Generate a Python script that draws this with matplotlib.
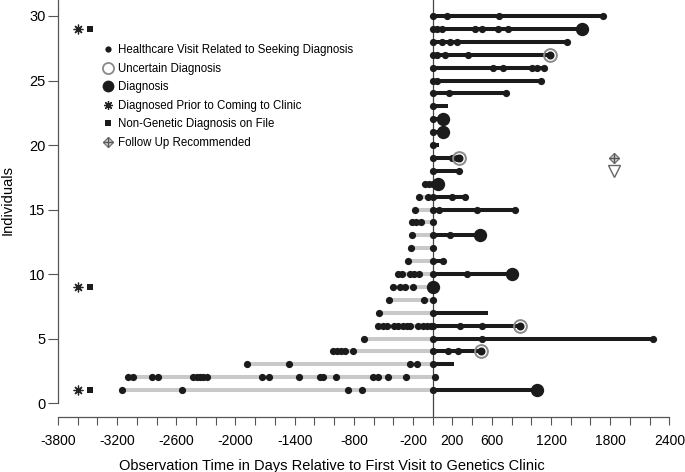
import matplotlib
matplotlib.use("Agg")
import matplotlib.pyplot as plt
from matplotlib.lines import Line2D
from matplotlib.legend_handler import HandlerTuple

plt.rcParams['font.family'] = ['Liberation Sans', 'DejaVu Sans']

# ---- data: days relative to first genetics-clinic visit ----
individuals = list(range(1, 31))
visits = {
    1: [-3154, -2546, -862, -720, 0],
    2: [-3087, -3037, -2850, -2783, -2428, -2394, -2360, -2327, -2286, -1734, -1660,
        -1353, -1143, -1110, -981, -609, -552, -450, -271, 23],
    3: [-1886, -1457, -230, -162, 0],
    4: [-1014, -974, -933, -889, -811, 0, 158, 260],
    5: [-697, 0, 497, 2237],
    6: [-552, -507, -460, -392, -349, -304, -264, -230, -146, -101, -61, -20, 0, 277, 497],
    7: [-541, 0],
    8: [-440, -88, 0],
    9: [-406, -332, -281, -197],
    10: [-349, -314, -230, -190, -136, 0, 345],
    11: [-247, 0, 108],
    12: [-220, 0],
    13: [-213, 0, 175],
    14: [-213, -169, -122, 0],
    15: [-183, 0, 67, 452, 834],
    16: [-136, -44, 0, 192, 327],
    17: [-78, -34, 0],
    18: [0, 267],
    19: [0, 192, 243],
    20: [0],
    21: [0],
    22: [0],
    23: [0],
    24: [0, 169, 743],
    25: [0, 40, 1098],
    26: [0, 608, 710, 1004, 1055, 1132],
    27: [0, 40, 125, 355],
    28: [0, 91, 175, 250, 1359],
    29: [0, 40, 91, 430, 497, 666, 767],
    30: [0, 142, 676, 1730],
}
diagnosis = {1: 1061, 9: 0, 10: 801, 13: 480, 17: 57, 21: 108, 22: 108, 29: 1517}
uncertain = {4: 490, 6: 886, 19: 270, 27: 1190}
followup_end = {3: 216, 7: 564, 8: 30, 20: 60, 23: 158}
prior_dx = [1, 9, 29]
nongenetic_dx = [1, 9, 29]
followup_recommended = {19: 1842}
followup_triangle = {18: 1842}
prior_x = -3600
nongenetic_x = -3480

xticks = list(range(-3800, 2401, 200))
xtick_labels = ['-3800', '-3200', '-2600', '-2000', '-1400', '-800', '-200',
                '200', '600', '1200', '1800', '2400']
yticks = [0, 5, 10, 15, 20, 25, 30]

BLACK = '#1b1b1b'
GREY = '#c9c9c9'
RING = '#8a8a8a'

fig = plt.figure(figsize=(6.85, 4.72), dpi=100)
ax = fig.add_axes([58 / 685, 55 / 472, 622 / 685, 417 / 472])
ax.set_xlim(-3800, 2508)
ax.set_ylim(-1.08, 31.24)

ax.axvline(0, color='#444444', lw=0.9, zorder=1)

for i in individuals:
    pts = list(visits[i])
    if i in diagnosis:
        pts.append(diagnosis[i])
    if i in uncertain:
        pts.append(uncertain[i])
    if i in followup_end:
        pts.append(followup_end[i])
    lo = min(pts)
    hi = max(pts)
    if lo < 0:
        ax.plot([lo, 0], [i, i], color=GREY, lw=2.9, solid_capstyle='butt', zorder=2)
    if hi > 0:
        ax.plot([0, hi], [i, i], color=BLACK, lw=2.9, solid_capstyle='butt', zorder=3)
    ax.plot(visits[i], [i] * len(visits[i]), 'o', color=BLACK, ms=5.2, mew=0, zorder=4)
    if i in diagnosis:
        ax.plot([diagnosis[i]], [i], 'o', color=BLACK, ms=9.6, mew=0, zorder=5)
    if i in uncertain:
        ax.plot([uncertain[i]], [i], 'o', color=BLACK, ms=5.8, mew=0, zorder=5)
        ax.plot([uncertain[i]], [i], 'o', mfc='none', mec=RING, ms=9.2, mew=1.4, zorder=6)

ax.plot([prior_x] * len(prior_dx), prior_dx, ls='none', marker=(8, 2, 0),
        color='#222222', ms=7, mew=0.9, zorder=5)
ax.plot([nongenetic_x] * len(nongenetic_dx), nongenetic_dx, 's', color=BLACK,
        ms=4.3, mew=0, zorder=5)
for i, d in followup_recommended.items():
    ax.plot([d], [i], 'D', mfc='#dddddd', mec='#777777', ms=5.5, mew=1.0, zorder=5)
    ax.plot([d], [i], '+', color='#555555', ms=7, mew=1.0, zorder=6)
for i, d in followup_triangle.items():
    ax.plot([d], [i], 'v', mfc='white', mec='#666666', ms=9, mew=1.0, zorder=5)

# legend
h_visit = Line2D([], [], ls='none', marker='o', color=BLACK, ms=4.5, mew=0)
h_unc = Line2D([], [], ls='none', marker='o', mfc='none', mec=RING, ms=8, mew=1.3)
h_dx = Line2D([], [], ls='none', marker='o', color=BLACK, ms=8.5, mew=0)
h_prior = Line2D([], [], ls='none', marker=(8, 2, 0), color='#222222', ms=6.5, mew=0.9)
h_sq = Line2D([], [], ls='none', marker='s', color=BLACK, ms=4.3, mew=0)
h_fu1 = Line2D([], [], ls='none', marker='D', mfc='#dddddd', mec='#777777', ms=5, mew=1.0)
h_fu2 = Line2D([], [], ls='none', marker='+', color='#555555', ms=6.5, mew=1.0)
legend_labels = ['Healthcare Visit Related to Seeking Diagnosis', 'Uncertain Diagnosis',
                 'Diagnosis', 'Diagnosed Prior to Coming to Clinic',
                 'Non-Genetic Diagnosis on File', 'Follow Up Recommended']
ax.legend([h_visit, h_unc, h_dx, h_prior, h_sq, (h_fu1, h_fu2)], legend_labels,
          handler_map={tuple: HandlerTuple(ndivide=1, pad=0)},
          loc='upper left', bbox_to_anchor=((102 - 58) / 622, 1 - 44 / 417),
          frameon=False, fontsize=8.3, handlelength=1.0, handletextpad=0.4,
          labelspacing=0.57, borderaxespad=0, borderpad=0)

for s in ['top', 'right']:
    ax.spines[s].set_visible(False)
ax.spines['left'].set_bounds(0, 31.24)
ax.spines['bottom'].set_bounds(-3800, 2400)
ax.spines['left'].set_color('#555555')
ax.spines['bottom'].set_color('#555555')
ax.spines['left'].set_linewidth(0.9)
ax.spines['bottom'].set_linewidth(0.9)

ax.set_xticks(xticks)
lab_map = {int(t): t for t in xtick_labels}
ax.set_xticklabels([lab_map.get(t, '') for t in xticks])
ax.set_yticks(yticks)
ax.set_yticklabels([str(v) for v in yticks])
ax.tick_params(axis='x', direction='out', length=6, width=0.8, color='#555555',
               labelsize=10, pad=6)
ax.tick_params(axis='y', direction='out', length=7, width=0.8, color='#555555',
               labelsize=10.5, pad=2)

ax.set_xlabel('Observation Time in Days Relative to First Visit to Genetics Clinic',
              fontsize=10.5)
ax.xaxis.set_label_coords((332 - 58) / 622, -(459 - 417) / 417)
ax.set_ylabel('Individuals', fontsize=10.5)
ax.yaxis.set_label_coords(-(58 - 15) / 622, (417 - 200) / 417)

fig.savefig('out.png', dpi=100)
